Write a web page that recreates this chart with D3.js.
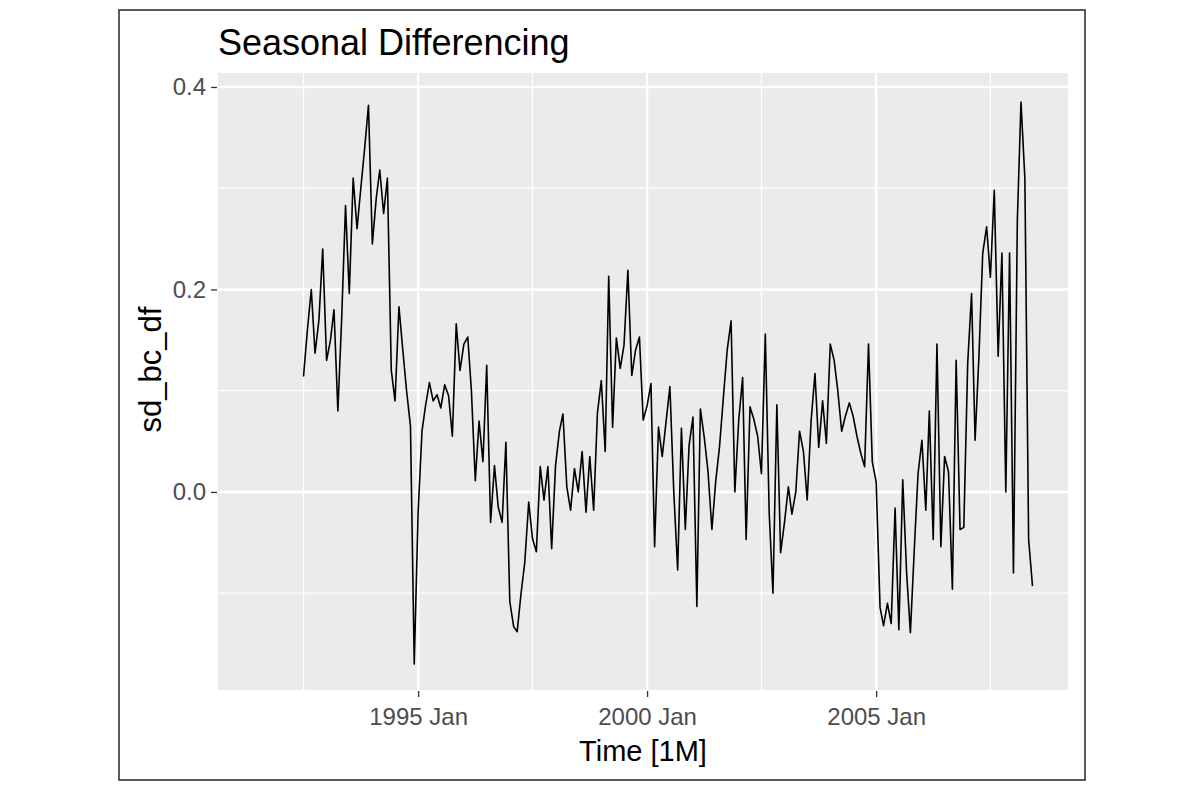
<!DOCTYPE html>
<html><head><meta charset="utf-8">
<script src="https://cdn.jsdelivr.net/npm/d3@7"></script>
<style>body{margin:0;background:#fff;} svg{display:block;}</style>
</head><body>
<svg id="chart" width="1200" height="792"></svg>
<script>
// ---- data ----
const titleText = "Seasonal Differencing";
const xTitle = "Time [1M]";
const yTitle = "sd_bc_df";
const startMonth = "1992-07";
const values = [
 0.114, 0.16, 0.20, 0.137, 0.17, 0.24, 0.13, 0.15, 0.18, 0.08, 0.17, 0.283,
 0.196, 0.31, 0.26, 0.30, 0.34, 0.382, 0.245, 0.29, 0.318, 0.275, 0.31, 0.12,
 0.09, 0.183, 0.14, 0.10, 0.065, -0.17, -0.02, 0.06, 0.085, 0.108, 0.09, 0.096,
 0.083, 0.106, 0.095, 0.055, 0.166, 0.12, 0.146, 0.153, 0.10, 0.011, 0.07, 0.03,
 0.125, -0.03, 0.026, -0.015, -0.03, 0.049, -0.108, -0.133, -0.138, -0.1, -0.069, -0.01,
 -0.046, -0.059, 0.025, -0.008, 0.025, -0.056, 0.026, 0.06, 0.077, 0.005, -0.018, 0.023,
 0.0, 0.04, -0.02, 0.035, -0.018, 0.078, 0.11, 0.04, 0.213, 0.064, 0.152, 0.122,
 0.145, 0.219, 0.115, 0.14, 0.153, 0.071, 0.085, 0.107, -0.054, 0.064, 0.035, 0.07,
 0.104, 0.0, -0.077, 0.063, -0.037, 0.046, 0.074, -0.113, 0.082, 0.054, 0.02, -0.037,
 0.01, 0.045, 0.094, 0.14, 0.169, 0.0, 0.071, 0.113, -0.047, 0.084, 0.072, 0.055,
 0.018, 0.156, -0.021, -0.1, 0.086, -0.06, -0.03, 0.005, -0.022, 0.0, 0.06, 0.04,
 -0.008, 0.07, 0.117, 0.044, 0.09, 0.048, 0.146, 0.13, 0.1, 0.06, 0.075, 0.088,
 0.075, 0.055, 0.038, 0.025, 0.146, 0.03, 0.01, -0.114, -0.132, -0.11, -0.13, -0.016,
 -0.136, 0.012, -0.08, -0.139, -0.057, 0.018, 0.051, -0.018, 0.08, -0.047, 0.146, -0.054,
 0.035, 0.02, -0.096, 0.13, -0.037, -0.035, 0.127, 0.196, 0.051, 0.135, 0.236, 0.262,
 0.212, 0.298, 0.134, 0.236, 0.0, 0.236, -0.08, 0.268, 0.385, 0.31, -0.047, -0.093
];
const xTickDates = ["1995-01", "2000-01", "2005-01"];
const xTickLabels = ["1995 Jan", "2000 Jan", "2005 Jan"];
const xMinorDates = ["1992-07", "1997-07", "2002-07", "2007-07"];
const yTicks = [0.0, 0.2, 0.4];
const yTickLabels = ["0.0", "0.2", "0.4"];
const yMinor = [-0.1, 0.1, 0.3];
const xDomain = ["1990-08-19", "2009-03-11"];
const yDomain = [-0.1956, 0.4138];

// ---- layout ----
const W = 1200, H = 792;
const panel = {left: 218, right: 1068, top: 73, bottom: 690};
const FONT = "Liberation Sans, Arial, sans-serif";
const pm = d3.timeParse("%Y-%m");
const pd = d3.timeParse("%Y-%m-%d");
const start = pm(startMonth);
const data = values.map((v, i) => ({date: d3.timeMonth.offset(start, i), value: v}));

const x = d3.scaleTime().domain(xDomain.map(pd)).range([panel.left, panel.right]);
const y = d3.scaleLinear().domain(yDomain).range([panel.bottom, panel.top]);

const svg = d3.select("#chart");
svg.append("rect").attr("x", 0).attr("y", 0).attr("width", W).attr("height", H).attr("fill", "#fff");
svg.append("rect").attr("x", 119).attr("y", 10).attr("width", 966).attr("height", 770)
  .attr("fill", "#fff").attr("stroke", "#333").attr("stroke-width", 1.6);

// panel
svg.append("rect").attr("x", panel.left).attr("y", panel.top)
  .attr("width", panel.right - panel.left).attr("height", panel.bottom - panel.top)
  .attr("fill", "#ebebeb");

const grid = svg.append("g");
grid.selectAll(".ymin").data(yMinor).join("line")
  .attr("x1", panel.left).attr("x2", panel.right)
  .attr("y1", d => y(d)).attr("y2", d => y(d))
  .attr("stroke", "#fff").attr("stroke-width", 1.3);
grid.selectAll(".xmin").data(xMinorDates.map(pm)).join("line")
  .attr("y1", panel.top).attr("y2", panel.bottom)
  .attr("x1", d => x(d)).attr("x2", d => x(d))
  .attr("stroke", "#fff").attr("stroke-width", 1.3);
grid.selectAll(".ymaj").data(yTicks).join("line")
  .attr("x1", panel.left).attr("x2", panel.right)
  .attr("y1", d => y(d)).attr("y2", d => y(d))
  .attr("stroke", "#fff").attr("stroke-width", 2.4);
grid.selectAll(".xmaj").data(xTickDates.map(pm)).join("line")
  .attr("y1", panel.top).attr("y2", panel.bottom)
  .attr("x1", d => x(d)).attr("x2", d => x(d))
  .attr("stroke", "#fff").attr("stroke-width", 2.4);

// line
const line = d3.line().x(d => x(d.date)).y(d => y(d.value));
svg.append("path").datum(data).attr("d", line)
  .attr("fill", "none").attr("stroke", "#000").attr("stroke-width", 1.6)
  .attr("stroke-linejoin", "round");

// axes
const yAxis = d3.axisLeft(y).tickValues(yTicks).tickFormat((d, i) => yTickLabels[i])
  .tickSize(6).tickPadding(5);
const gy = svg.append("g").attr("transform", `translate(${panel.left - 1},0)`).call(yAxis);
gy.select(".domain").remove();
gy.selectAll(".tick line").attr("stroke", "#333").attr("stroke-width", 1.3);
gy.selectAll(".tick text").attr("fill", "#4d4d4d")
  .style("font-family", FONT).style("font-size", "24px");

const xAxis = d3.axisBottom(x).tickValues(xTickDates.map(pm)).tickFormat((d, i) => xTickLabels[i])
  .tickSize(6).tickPadding(11);
const gx = svg.append("g").attr("transform", `translate(0,${panel.bottom + 1})`).call(xAxis);
gx.select(".domain").remove();
gx.selectAll(".tick line").attr("stroke", "#333").attr("stroke-width", 1.3);
gx.selectAll(".tick text").attr("fill", "#4d4d4d")
  .style("font-family", FONT).style("font-size", "24px");

// titles
svg.append("text").attr("x", panel.left).attr("y", 55)
  .style("font-family", FONT).style("font-size", "36px")
  .attr("fill", "#000").text(titleText);
svg.append("text").attr("x", (panel.left + panel.right) / 2).attr("y", 761)
  .attr("text-anchor", "middle")
  .style("font-family", FONT).style("font-size", "29px")
  .attr("fill", "#000").text(xTitle);
svg.append("text")
  .attr("transform", `translate(161,${(panel.top + panel.bottom) / 2 - 12}) rotate(-90)`)
  .attr("text-anchor", "middle")
  .style("font-family", FONT).style("font-size", "31px")
  .attr("fill", "#000").text(yTitle);
</script>
</body></html>
